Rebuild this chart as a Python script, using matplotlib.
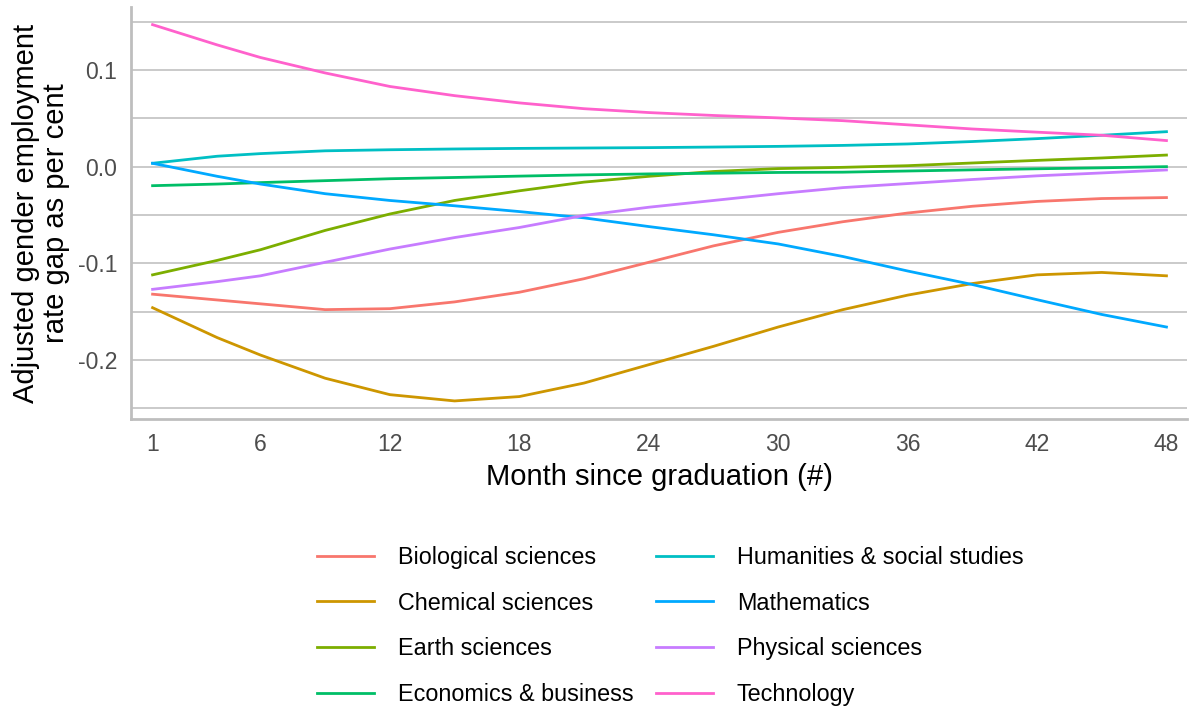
"""Adjusted gender employment rate gap by field, months since graduation."""

import matplotlib

matplotlib.use("Agg")

import matplotlib.pyplot as plt

plt.rcParams["font.family"] = ["Liberation Sans", "DejaVu Sans"]

MONTHS = [1, 4, 6, 9, 12, 15, 18, 21, 24, 27, 30, 33, 36, 39, 42, 45, 48]

FIELDS = [
    "Biological sciences",
    "Chemical sciences",
    "Earth sciences",
    "Economics & business",
    "Humanities & social studies",
    "Mathematics",
    "Physical sciences",
    "Technology",
]

biological = [-0.132, -0.138, -0.142, -0.148, -0.147, -0.140, -0.130, -0.116, -0.099,
              -0.082, -0.068, -0.057, -0.048, -0.041, -0.036, -0.033, -0.032]
chemical = [-0.146, -0.177, -0.195, -0.219, -0.236, -0.2425, -0.238, -0.224, -0.205,
            -0.186, -0.166, -0.148, -0.133, -0.121, -0.112, -0.1095, -0.113]
earth = [-0.112, -0.097, -0.086, -0.066, -0.049, -0.035, -0.025, -0.016, -0.010,
         -0.005, -0.002, -0.0007, 0.001, 0.0038, 0.0065, 0.009, 0.012]
economics = [-0.0197, -0.018, -0.0165, -0.0145, -0.0125, -0.0112, -0.0098, -0.0085,
             -0.0075, -0.0068, -0.006, -0.0057, -0.0045, -0.0033, -0.0022, -0.0012, 0.0]
humanities = [0.0035, 0.0108, 0.0135, 0.0164, 0.0175, 0.0183, 0.0189, 0.0193, 0.0197,
              0.0203, 0.021, 0.022, 0.0235, 0.026, 0.029, 0.0325, 0.0362]
mathematics = [0.0035, -0.010, -0.018, -0.028, -0.035, -0.0405, -0.0465, -0.053, -0.062,
               -0.0705, -0.080, -0.093, -0.108, -0.122, -0.1377, -0.153, -0.166]
physical = [-0.127, -0.119, -0.113, -0.099, -0.0853, -0.0734, -0.063, -0.0505, -0.042,
            -0.035, -0.028, -0.0217, -0.0175, -0.0133, -0.0095, -0.0065, -0.0034]
technology = [0.147, 0.126, 0.113, 0.097, 0.083, 0.0735, 0.066, 0.060, 0.056, 0.053,
              0.0505, 0.0476, 0.0433, 0.039, 0.0357, 0.0325, 0.027]

SERIES = [biological, chemical, earth, economics, humanities, mathematics, physical, technology]
COLORS = ["#F8766D", "#CD9600", "#7CAE00", "#00BE67", "#00BFC4", "#00A9FF", "#C77CFF", "#FF61CC"]

X_TICKS = [1, 6, 12, 18, 24, 30, 36, 42, 48]
Y_TICKS = [-0.2, -0.1, 0.0, 0.1]
Y_GRID = [-0.25, -0.2, -0.15, -0.1, -0.05, 0.0, 0.05, 0.1, 0.15]


def main():
    fig = plt.figure(figsize=(11.91, 7.11), dpi=100)
    ax = fig.add_axes([0.110, 0.4107, 0.8866, 0.5795])

    for y in Y_GRID:
        ax.axhline(y, color="#c6c6c6", linewidth=1.3, zorder=0)

    for name, vals, col in zip(FIELDS, SERIES, COLORS):
        ax.plot(MONTHS, vals, color=col, linewidth=2.0, label=name, zorder=2)

    ax.set_xlim(0.0, 48.95)
    ax.set_ylim(-0.2612, 0.1653)
    ax.set_xticks(X_TICKS)
    ax.set_xticklabels([str(t) for t in X_TICKS])
    ax.set_yticks(Y_TICKS)
    ax.set_yticklabels(["-0.2", "-0.1", "0.0", "0.1"])
    ax.tick_params(length=0, labelsize=16.5, labelcolor="#4d4d4d", pad=10)

    for side in ("top", "right"):
        ax.spines[side].set_visible(False)
    for side in ("left", "bottom"):
        ax.spines[side].set_color("#bebebe")
        ax.spines[side].set_linewidth(2.0)

    ax.set_xlabel("Month since graduation (#)", fontsize=21, labelpad=5)
    ax.set_ylabel("Adjusted gender employment\nrate gap as per cent", fontsize=21,
                  labelpad=5.5, linespacing=1.07)

    fig.legend(loc="center", bbox_to_anchor=(0.5626, 0.1195), ncol=2,
               frameon=False, fontsize=16.8, handlelength=2.45, handletextpad=1.03,
               columnspacing=0.95, labelspacing=0.98)

    fig.savefig("out.png", dpi=100)


if __name__ == "__main__":
    main()
